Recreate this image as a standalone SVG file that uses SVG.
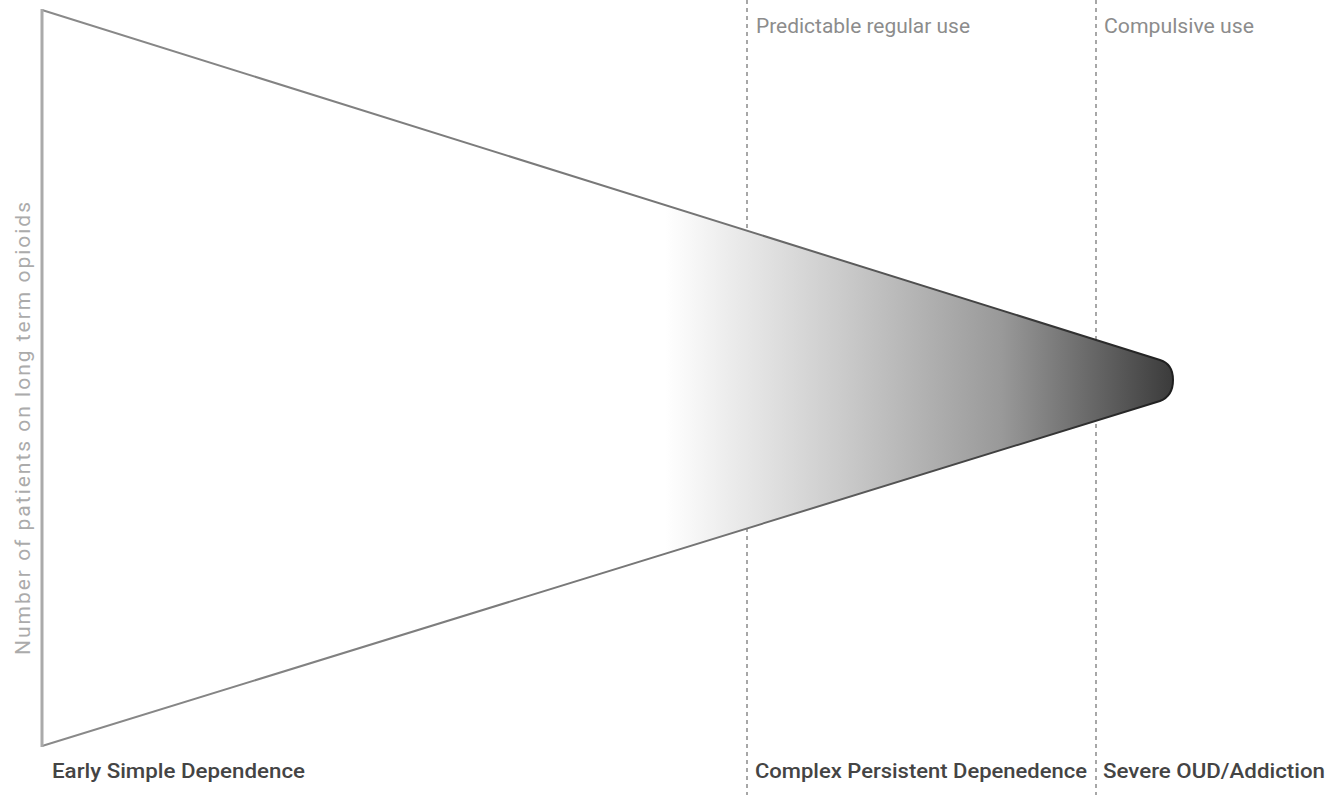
<svg xmlns="http://www.w3.org/2000/svg" width="1330" height="795" viewBox="0 0 1330 795">
<style>
.axis{stroke:#aaaaaa;stroke-width:3;fill:none}
.guide{stroke:#8a8a8a;stroke-width:1.5;stroke-dasharray:4 4;fill:none}
.stage{font-family:Roboto,"Liberation Sans",sans-serif;font-size:20px;fill:#8c8c8c}
.name{font-family:Roboto,"Liberation Sans",sans-serif;font-size:21px;font-weight:500;fill:#444444}
.ylab{font-family:Roboto,"Liberation Sans",sans-serif;font-size:21px;fill:#ababab}
</style>
<defs>
<linearGradient id="fade" gradientUnits="userSpaceOnUse" x1="665" y1="0" x2="1175" y2="0">
<stop offset="0" stop-color="#ffffff"/>
<stop offset="0.34" stop-color="#cccccc"/>
<stop offset="0.66" stop-color="#999999"/>
<stop offset="1" stop-color="#3a3a3a"/>
</linearGradient>
<linearGradient id="edge" gradientUnits="userSpaceOnUse" x1="42" y1="0" x2="1175" y2="0">
<stop offset="0" stop-color="#8a8a8a"/>
<stop offset="0.6" stop-color="#747474"/>
<stop offset="1" stop-color="#1e1e1e"/>
</linearGradient>
</defs>
<rect width="1330" height="795" fill="#ffffff"/>
<g id="connectors">
<line class="guide" x1="747" y1="0" x2="747" y2="795"/>
<line class="guide" x1="1096" y1="0" x2="1096" y2="795"/>
</g>
<g id="funnel">
<path d="M42,10 L1160,360 Q1173,364 1173,380 Q1173,396 1160,401 L42,746" fill="url(#fade)" stroke="url(#edge)" stroke-width="2" stroke-linejoin="round"/>
<line class="axis" x1="42" y1="9" x2="42" y2="747"/>
</g>
<g id="y-axis-label">
<text class="ylab" transform="translate(30,655) rotate(-90)" textLength="453" lengthAdjust="spacing">Number of patients on long term opioids</text>
</g>
<g id="stage-predictable">
<text class="stage" x="756" y="33" textLength="214" lengthAdjust="spacingAndGlyphs">Predictable regular use</text>
</g>
<g id="stage-compulsive">
<text class="stage" x="1104" y="33" textLength="150" lengthAdjust="spacingAndGlyphs">Compulsive use</text>
</g>
<g id="label-early">
<text class="name" x="52" y="778" textLength="253" lengthAdjust="spacingAndGlyphs">Early Simple Dependence</text>
</g>
<g id="label-complex">
<text class="name" x="755" y="778" textLength="332" lengthAdjust="spacingAndGlyphs">Complex Persistent Depenedence</text>
</g>
<g id="label-severe">
<text class="name" x="1103" y="778" textLength="222" lengthAdjust="spacingAndGlyphs">Severe OUD/Addiction</text>
</g>
</svg>
